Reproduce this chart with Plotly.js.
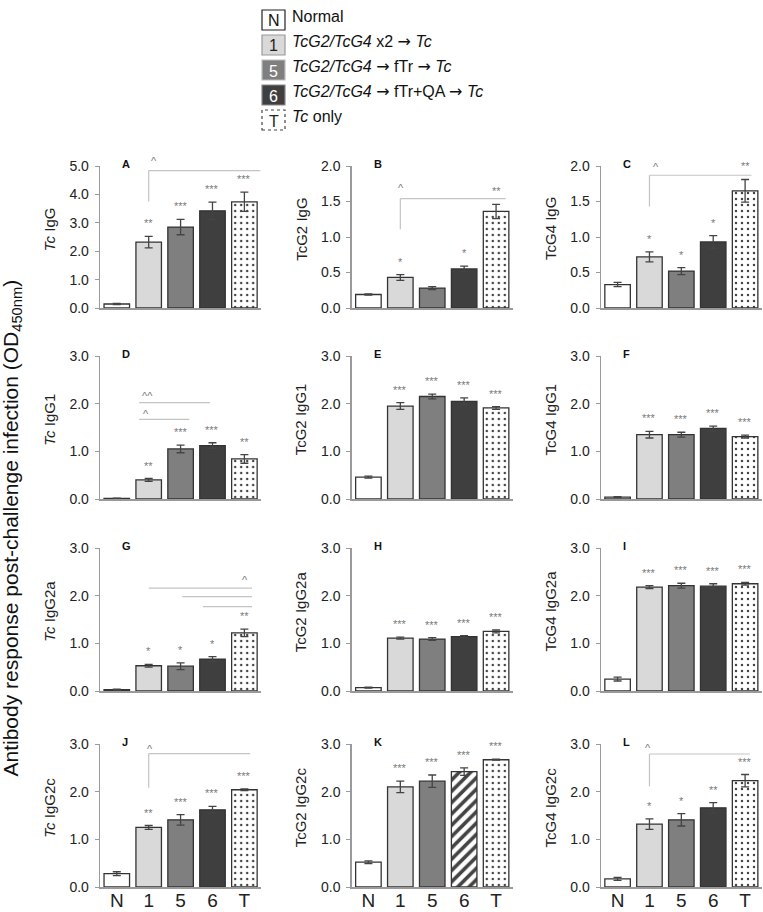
<!DOCTYPE html>
<html><head><meta charset="utf-8">
<script src="https://cdn.plot.ly/plotly-3.0.1.min.js"></script>
<style>html,body{margin:0;padding:0;background:#fff}</style>
</head><body><div id="chart" style="width:763px;height:912px"></div>
<script>
// ---------- DATA ----------
const groups = ['N', '1', '5', '6', 'T'];
const ARROW = '<span style="font-family:DejaVu Sans">→</span>';
const legendLabels = ['Normal',
  '<i>TcG2/TcG4</i> x2 ' + ARROW + ' <i>Tc</i>',
  '<i>TcG2/TcG4</i> ' + ARROW + ' fTr ' + ARROW + ' <i>Tc</i>',
  '<i>TcG2/TcG4</i> ' + ARROW + ' fTr+QA ' + ARROW + ' <i>Tc</i>',
  '<i>Tc</i> only'];
const panelLetters = ['A','B','C','D','E','F','G','H','I','J','K','L'];
const panelTitles = ['<i>Tc</i> IgG','TcG2 IgG','TcG4 IgG',
  '<i>Tc</i> IgG1','TcG2 IgG1','TcG4 IgG1',
  '<i>Tc</i> IgG2a','TcG2 IgG2a','TcG4 IgG2a',
  '<i>Tc</i> IgG2c','TcG2 IgG2c','TcG4 IgG2c'];
const yMax  = [5, 2, 2, 3, 3, 3, 3, 3, 3, 3, 3, 3];
const yStep = [1, 0.5, 0.5, 1, 1, 1, 1, 1, 1, 1, 1, 1];

const valA = [0.14, 2.32, 2.85, 3.42, 3.74], errA = [0.02, 0.20, 0.27, 0.31, 0.34], sigA = ['', '**', '***', '***', '***'];
const valB = [0.19, 0.43, 0.28, 0.55, 1.36], errB = [0.01, 0.04, 0.02, 0.04, 0.10], sigB = ['', '*', '', '*', '**'];
const valC = [0.33, 0.72, 0.52, 0.93, 1.65], errC = [0.03, 0.07, 0.05, 0.09, 0.16], sigC = ['', '*', '*', '*', '**'];
const valD = [0.015, 0.40, 1.05, 1.12, 0.84], errD = [0.005, 0.03, 0.08, 0.06, 0.09], sigD = ['', '**', '***', '***', '**'];
const valE = [0.46, 1.95, 2.15, 2.05, 1.91], errE = [0.02, 0.07, 0.05, 0.07, 0.03], sigE = ['', '***', '***', '***', '***'];
const valF = [0.04, 1.35, 1.35, 1.48, 1.31], errF = [0.01, 0.07, 0.05, 0.05, 0.03], sigF = ['', '***', '***', '***', '***'];
const valG = [0.03, 0.53, 0.52, 0.67, 1.22], errG = [0.01, 0.03, 0.07, 0.05, 0.08], sigG = ['', '*', '*', '*', '**'];
const valH = [0.07, 1.11, 1.09, 1.14, 1.25], errH = [0.01, 0.02, 0.03, 0.02, 0.03], sigH = ['', '***', '***', '***', '***'];
const valI = [0.25, 2.18, 2.21, 2.20, 2.25], errI = [0.04, 0.03, 0.05, 0.05, 0.03], sigI = ['', '***', '***', '***', '***'];
const valJ = [0.28, 1.25, 1.41, 1.62, 2.04], errJ = [0.04, 0.04, 0.11, 0.07, 0.02], sigJ = ['', '**', '***', '***', '***'];
const valK = [0.52, 2.10, 2.22, 2.42, 2.67], errK = [0.03, 0.12, 0.13, 0.08, 0.01], sigK = ['', '***', '***', '***', '***'];
const valL = [0.17, 1.32, 1.41, 1.66, 2.23], errL = [0.03, 0.11, 0.13, 0.11, 0.13], sigL = ['', '*', '*', '**', '***'];

const values = [valA, valB, valC, valD, valE, valF, valG, valH, valI, valJ, valK, valL];
const errors = [errA, errB, errC, errD, errE, errF, errG, errH, errI, errJ, errK, errL];
const sigs   = [sigA, sigB, sigC, sigD, sigE, sigF, sigG, sigH, sigI, sigJ, sigK, sigL];

// comparison brackets (panel index, group span, level, optional drop level, label)
const brackets = [
  {p: 0, x0: 1, x1: 4.5, y: 4.84, drop: 3.75, label: '^', lx: 1.17, ly: 5.27},
  {p: 1, x0: 1, x1: 4.3, y: 1.54, drop: 1.11, label: '^', lx: 1.03, ly: 1.73},
  {p: 2, x0: 1, x1: 4.2, y: 1.87, drop: 1.43, label: '^', lx: 1.2, ly: 2.03},
  {p: 3, x0: 0.7, x1: 2.92, y: 2.02, drop: null, label: '^^', lx: 0.95, ly: 2.22},
  {p: 3, x0: 0.7, x1: 2.27, y: 1.67, drop: null, label: '^', lx: 0.92, ly: 1.84},
  {p: 6, x0: 1, x1: 4.24, y: 2.16, drop: null, label: '^', lx: 4.02, ly: 2.40},
  {p: 6, x0: 2.05, x1: 4.24, y: 1.98, drop: null, label: '', lx: 0, ly: 0},
  {p: 6, x0: 2.7, x1: 4.24, y: 1.77, drop: null, label: '', lx: 0, ly: 0},
  {p: 9, x0: 1, x1: 4.18, y: 2.80, drop: 2.08, label: '^', lx: 1.04, ly: 2.95},
  {p: 11, x0: 1, x1: 4.15, y: 2.79, drop: 2.11, label: '^', lx: 0.96, ly: 2.98}
];

// ---------- STYLE ----------
const W = 763, H = 912;
const barColors = ['#ffffff', '#d9d9d9', '#7f7f7f', '#3f3f3f', '#ffffff'];
const legendBorder = ['#222', '#9a9a9a', '#bdbdbd', '#8a8a8a', '#444'];
const legendKeyColor = ['#111', '#222', '#fff', '#fff', '#222'];
const colPx = [[100.2, 261.3], [351.8, 513], [601, 762]];
const rowPx = [[166, 308], [356, 499], [548, 691], [744, 887]];
const FONT = 'Liberation Sans, Arial, sans-serif';
const STAR = '#7a7a7a';
const HATCHED_PANEL = 10; // panel K draws group "6" hatched

const data = [], annotations = [], shapes = [];
const layout = {
  width: W, height: H, margin: {l: 0, r: 0, t: 0, b: 0},
  paper_bgcolor: '#fff', plot_bgcolor: '#fff', showlegend: false,
  font: {family: FONT, color: '#222'}
};

for (let p = 0; p < 12; p++) {
  const r = Math.floor(p / 3), c = p % 3;
  const n = p === 0 ? '' : String(p + 1);
  const xa = 'x' + n, ya = 'y' + n;
  const hatched = groups.map((g, i) => p === HATCHED_PANEL && i === 3);
  const shape = groups.map((g, i) => i === 4 ? '.' : (hatched[i] ? '/' : ''));
  const colors = barColors.map((col, i) => hatched[i] ? '#ffffff' : col);
  data.push({
    type: 'bar', x: groups, y: values[p], xaxis: xa, yaxis: ya,
    marker: {
      color: colors, line: {color: '#333', width: 1.3},
      pattern: {shape: shape, fillmode: 'overlay', fgcolor: '#333', fgopacity: 1,
                size: groups.map((g, i) => hatched[i] ? 8 : 6),
                solidity: groups.map((g, i) => hatched[i] ? 0.45 : 0.13)}
    },
    error_y: {type: 'data', array: errors[p], visible: true, color: '#444', thickness: 1.3, width: 4},
    hoverinfo: 'skip'
  });
  layout['xaxis' + n] = {
    domain: [colPx[c][0] / W, colPx[c][1] / W], anchor: ya,
    type: 'category', categoryorder: 'array', categoryarray: groups,
    range: [-0.52, 4.53], fixedrange: true,
    showline: true, linecolor: '#9a9a9a', linewidth: 1.5, ticks: '', showgrid: false, zeroline: false,
    showticklabels: r === 3, ticklabelstandoff: -4, tickfont: {size: 19, color: '#222', family: FONT}
  };
  layout['yaxis' + n] = {
    domain: [1 - rowPx[r][1] / H, 1 - rowPx[r][0] / H], anchor: xa,
    range: [0, yMax[p]], dtick: yStep[p], tick0: 0, tickformat: '.1f', fixedrange: true,
    showline: true, linecolor: '#9a9a9a', linewidth: 1.5, ticks: 'outside', ticklen: 4, tickcolor: '#9a9a9a',
    showgrid: false, zeroline: false, ticklabelstandoff: 3,
    tickfont: {size: 14, color: '#222', family: FONT}
  };
  // panel letter
  annotations.push({xref: xa, yref: ya + ' domain', x: 0.1, y: 1, xanchor: 'left', yanchor: 'middle', yshift: 2,
    text: '<b>' + panelLetters[p] + '</b>', showarrow: false, font: {size: 11, color: '#111', family: FONT}});
  // y-axis title
  annotations.push({xref: xa + ' domain', yref: ya + ' domain', x: 0, y: 0.5, xshift: -51, yshift: 8,
    xanchor: 'center', yanchor: 'middle', textangle: -90, text: panelTitles[p], showarrow: false,
    font: {size: 15, color: '#222', family: FONT}});
  // significance stars above the error bars
  groups.forEach((g, i) => {
    if (!sigs[p][i]) return;
    annotations.push({xref: xa, yref: ya + ' domain', x: i, y: (values[p][i] + errors[p][i]) / yMax[p],
      xanchor: 'center', yanchor: 'bottom', yshift: 5, text: sigs[p][i], showarrow: false,
      font: {size: 11, color: STAR, family: FONT}});
  });
}

brackets.forEach(b => {
  const n = b.p === 0 ? '' : String(b.p + 1);
  const xa = 'x' + n, ya = 'y' + n;
  shapes.push({type: 'line', xref: xa, yref: ya, x0: b.x0, x1: b.x1, y0: b.y, y1: b.y,
    line: {color: '#c4c4c4', width: 1.2}});
  if (b.drop !== null) {
    shapes.push({type: 'line', xref: xa, yref: ya, x0: b.x0, x1: b.x0, y0: b.y, y1: b.drop,
      line: {color: '#c4c4c4', width: 1.2}});
  }
  if (b.label) {
    annotations.push({xref: xa, yref: ya + ' domain', x: b.lx, y: b.ly / yMax[b.p], xanchor: 'center',
      yanchor: 'middle', yshift: -3, text: b.label, showarrow: false, font: {size: 11, color: STAR, family: FONT}});
  }
});

// big y title
annotations.push({xref: 'paper', yref: 'paper', x: 11.5 / W, y: 1 - 528 / H, xanchor: 'center', yanchor: 'middle',
  textangle: -90, showarrow: false, text: 'Antibody response post-challenge infection (OD<sub>450nm</sub>)',
  font: {size: 21, color: '#111', family: FONT}});

// custom legend with keyed boxes
groups.forEach((g, i) => {
  const cy = 20 + 25 * i;
  shapes.push({type: 'rect', xref: 'paper', yref: 'paper', x0: 262 / W, x1: 285 / W,
    y0: 1 - (cy + 10) / H, y1: 1 - (cy - 10) / H, fillcolor: barColors[i],
    line: {color: legendBorder[i], width: 1.2, dash: i === 4 ? 'dot' : 'solid'}});
  annotations.push({xref: 'paper', yref: 'paper', x: 273.5 / W, y: 1 - (cy + 1) / H, xanchor: 'center', yanchor: 'middle',
    text: g, showarrow: false, font: {size: 16, color: legendKeyColor[i], family: FONT}});
  annotations.push({xref: 'paper', yref: 'paper', x: 290 / W, y: 1 - (cy - (i === 0 ? 4 : 3)) / H, xanchor: 'left', yanchor: 'middle',
    text: legendLabels[i], showarrow: false, font: {size: 16, color: '#111', family: FONT}});
});

layout.annotations = annotations;
layout.shapes = shapes;
Plotly.newPlot('chart', data, layout, {displayModeBar: false, staticPlot: true});
</script>
</body></html>
